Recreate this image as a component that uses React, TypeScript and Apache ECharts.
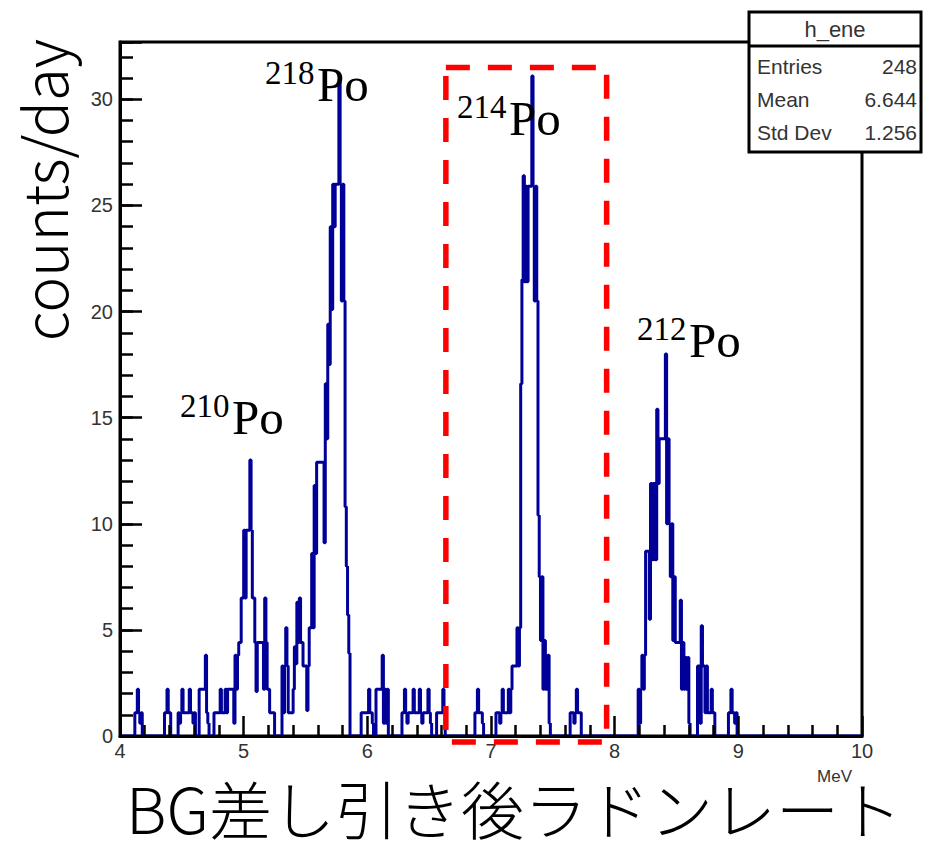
import React, { useEffect, useRef } from "react";
import * as echarts from "echarts";

// ---------- axis ranges and ticks ----------
const X_MIN = 4;
const X_MAX = 10;
const BIN_WIDTH = 0.01;
const Y_MIN = 0;
const Y_MAX = 32.7;
const X_MAJOR = 1;
const Y_MAJOR = 5;
const Y_MINOR = 1;

// ---------- histogram contents (counts/day), 0.01 MeV bins ----------
// each segment: first bin's lower edge, then consecutive bin values
const bg412Start = 4.12;
const bg412 = [1.1, 1.1, 2.2, 1.1, 0.6, 1.1];
const bg436Start = 4.36;
const bg436 = [1.1, 1.1, 2.2, 1.1, 1.1];
const bg447Start = 4.47;
const bg447 = [1.1, 0.6, 1.1, 2.2, 1.1, 1.1, 1.1, 1.1, 1.1, 2.2, 1.1, 1.1, 0.6, 1.1];
const bg464Start = 4.64;
const bg464 = [2.2, 2.2, 2.2, 2.2, 2.2, 3.8, 1.1, 0.6];
const po210Start = 4.76;
const po210 = [
  1.1, 1.1, 1.1, 1.1, 1.1, 2.2, 1.1, 1.1, 1.1, 2.2,
  1.1, 2.2, 2.2, 2.2, 2.2, 2.2, 0.6, 3.8, 2.2, 3.8,
  4.4, 4.4, 6.5, 6.5, 9.7, 6.5, 9.7, 9.7, 9.7, 13.0,
  9.7, 6.5, 6.5, 4.4, 2.1, 4.4, 4.4, 4.4, 4.4, 4.4,
  2.2, 6.5, 4.4, 2.2, 2.2, 1.1, 1.1, 1.1, 1.1,
];
const po218Start = 5.31;
const po218 = [
  3.3, 1.1, 3.3, 5.1, 3.3, 1.1, 1.1, 1.1, 1.1, 2.2,
  4.2, 3.4, 6.3, 4.4, 6.5, 4.4, 4.4, 3.3, 3.3, 3.3,
  1.2, 3.3, 5.1, 5.1, 8.6, 5.1, 11.8, 8.6, 12.9, 12.9,
  12.9, 12.9, 12.9, 12.9, 9.1, 16.6, 14.0, 19.4, 17.5, 24.0,
  20.1, 26.0, 24.0, 26.0, 26.0, 26.0, 30.8, 26.0, 20.5, 26.0,
  20.5, 10.8, 8.0, 5.7, 3.9,
];
const bg595Start = 5.95;
const bg595 = [
  1.1, 1.1, 1.1, 1.1, 1.1, 1.1, 2.2, 1.1, 1.1, 0.6,
  0, 0, 2.2, 2.2, 2.2, 2.2, 2.2, 3.8, 0.6, 2.2, 0.6, 2.2,
];
const bg628Start = 6.28;
const bg628 = [
  1.1, 1.1, 2.2, 1.1, 0.6, 1.1, 1.1, 1.1, 1.1, 2.2,
  1.1, 1.1, 1.1, 1.1, 2.2, 1.1, 0.6, 1.1, 1.1, 1.1,
  1.1, 2.2, 1.1, 0.6, 0, 0, 0, 0, 1.1, 1.1,
  1.1, 1.1, 1.1, 2.2, 1.1,
];
const bg687Start = 6.87;
const bg687 = [1.1, 1.1, 2.2, 1.1, 1.1, 1.1, 0.6];
const po214Start = 7.04;
const po214 = [
  1.1, 1.1, 1.1, 0.6, 1.1, 2.2, 1.1, 1.1, 1.1, 1.1,
  2.2, 1.1, 2.2, 3.3, 3.3, 3.3, 3.3, 5.1, 3.3, 5.1,
  16.6, 21.5, 26.4, 21.4, 25.9, 21.4, 25.9, 25.9, 25.9, 31.1,
  25.9, 20.5, 25.9, 20.5, 10.4, 7.5, 4.5, 7.5, 2.2, 4.5,
  2.2, 2.2, 3.8, 0.6,
];
const bg764Start = 7.64;
const bg764 = [1.1, 1.1, 1.1, 0.6, 1.1, 2.2, 1.1, 1.1, 1.1];
const po212Start = 8.19;
const po212 = [
  2.2, 0.6, 2.2, 3.8, 2.2, 3.8, 8.7, 8.7, 8.7, 5.5,
  11.9, 8.3, 11.9, 11.9, 8.3, 15.4, 11.9, 14.0, 14.0, 14.0,
  14.0, 14.0, 18.0, 10.0, 14.0, 10.0, 7.5, 10.0, 4.5, 7.5,
  4.4, 4.4, 4.4, 4.4, 6.4, 2.2, 4.4, 2.2, 3.7, 2.2,
  3.7, 0.6,
];
const bg867Start = 8.67;
const bg867 = [3.3, 3.3, 0.6, 5.2, 3.3, 3.3, 1.1, 3.3, 1.1, 1.1, 1.1, 2.2, 1.1, 1.1];
const bg892Start = 8.92;
const bg892 = [1.1, 1.1, 2.2, 1.1, 1.1, 0.6, 1.1];

const segments: [number, number[]][] = [
  [bg412Start, bg412],
  [bg436Start, bg436],
  [bg447Start, bg447],
  [bg464Start, bg464],
  [po210Start, po210],
  [po218Start, po218],
  [bg595Start, bg595],
  [bg628Start, bg628],
  [bg687Start, bg687],
  [po214Start, po214],
  [bg764Start, bg764],
  [po212Start, po212],
  [bg867Start, bg867],
  [bg892Start, bg892],
];

// ---------- texts ----------
const statsTitle = "h_ene";
const statsNames = ["Entries", "Mean", "Std Dev"];
const statsValues = ["248", "6.644", "1.256"];
const peakMasses = ["218", "214", "212", "210"];
const peakElement = "Po";
const yTitle = "counts/day";
const xTitle = "BG差し引き後ラドンレート";
const xUnit = "MeV";
// selection window (MeV, counts/day)
const windowE = [6.635, 7.935];
const windowV = [-0.28, 31.5];

function buildHistogram(): [number, number][] {
  const nBins = Math.round((X_MAX - X_MIN) / BIN_WIDTH);
  const vals = new Array(nBins).fill(0);
  for (const [start, arr] of segments) {
    const i0 = Math.round((start - X_MIN) / BIN_WIDTH);
    arr.forEach((v, j) => {
      vals[i0 + j] = v;
    });
  }
  const pts: [number, number][] = vals.map((v, i) => [
    +(X_MIN + i * BIN_WIDTH).toFixed(2),
    v,
  ]);
  pts.push([X_MAX, 0]);
  return pts;
}

export default function App() {
  const ref = useRef<HTMLDivElement>(null);
  useEffect(() => {
    if (!ref.current) return;
    const chart = echarts.init(ref.current, null, { renderer: "svg" });
    const tickFont = "Liberation Sans, Arial, sans-serif";
    const axisBase = {
      type: "value" as const,
      z: 10,
      splitLine: { show: false },
    };
    chart.setOption({
      animation: false,
      backgroundColor: "#ffffff",
      grid: {
        left: 120,
        top: 42,
        width: 742,
        height: 694,
        show: true,
        borderColor: "#000",
        borderWidth: 3,
        backgroundColor: "transparent",
      },
      xAxis: {
        ...axisBase,
        min: X_MIN,
        max: X_MAX,
        interval: X_MAJOR,
        axisLine: { show: true, onZero: false, lineStyle: { color: "#000", width: 3 } },
        axisTick: { show: true, inside: true, length: 20, lineStyle: { color: "#000", width: 2.5 } },
        minorTick: { show: true, splitNumber: 5, length: 11, lineStyle: { color: "#000", width: 2.5 } },
        minorSplitLine: { show: false },
        axisLabel: {
          color: "#333",
          fontSize: 20,
          fontFamily: tickFont,
          margin: 5,
        },
      },
      yAxis: [
        {
          ...axisBase,
          min: Y_MIN,
          max: Y_MAX,
          interval: Y_MAJOR,
          axisLine: { show: true, onZero: false, lineStyle: { color: "#000", width: 3 } },
          axisTick: { show: true, inside: true, length: 22, lineStyle: { color: "#000", width: 2.5 } },
          axisLabel: {
            color: "#333",
            fontSize: 20,
            fontFamily: tickFont,
            margin: 7,
            formatter: (v: number) => (Math.abs(v % Y_MAJOR) < 1e-9 ? String(v) : ""),
          },
        },
        {
          ...axisBase,
          min: Y_MIN,
          max: Y_MAX,
          interval: Y_MINOR,
          position: "left",
          axisLine: { show: false },
          axisTick: { show: true, inside: true, length: 13, lineStyle: { color: "#000", width: 2.5 } },
          axisLabel: { show: false },
        },
      ],
      series: [
        {
          type: "line",
          step: "end",
          data: buildHistogram(),
          showSymbol: false,
          symbol: "none",
          lineStyle: { color: "#000099", width: 3 },
          z: 2,
          silent: true,
        },
      ],
    });

    const p0 = chart.convertToPixel({ gridIndex: 0 }, [windowE[0], windowV[1]]) as number[];
    const p1 = chart.convertToPixel({ gridIndex: 0 }, [windowE[1], windowV[0]]) as number[];

    const serif = "Liberation Serif, Times New Roman, serif";
    const peakAnchors = [
      { sx: 265, sy: 73 },
      { sx: 457, sy: 107 },
      { sx: 637, sy: 329 },
      { sx: 180, sy: 406 },
    ];
    const peakGraphics: any[] = [];
    peakMasses.forEach((m, i) => {
      const a = peakAnchors[i];
      peakGraphics.push({
        type: "text",
        x: a.sx,
        y: a.sy,
        z: 50,
        style: { text: m, fontSize: 33, fontFamily: serif, fill: "#000", align: "left", verticalAlign: "middle" },
      });
      peakGraphics.push({
        type: "text",
        x: a.sx + 52,
        y: a.sy + 11,
        z: 50,
        style: { text: peakElement, fontSize: 49, fontFamily: serif, fill: "#000", align: "left", verticalAlign: "middle" },
      });
    });

    const statFont = "Liberation Sans, Arial, sans-serif";
    const statsGraphics: any[] = [
      {
        type: "rect",
        z: 100,
        shape: { x: 749, y: 12, width: 172, height: 140 },
        style: { fill: "#fff", stroke: "#000", lineWidth: 3 },
      },
      {
        type: "line",
        z: 101,
        shape: { x1: 749, y1: 46, x2: 921, y2: 46 },
        style: { stroke: "#000", lineWidth: 3 },
      },
      {
        type: "text",
        z: 102,
        x: 835,
        y: 29,
        style: { text: statsTitle, fontSize: 22, fontFamily: statFont, fill: "#333", align: "center", verticalAlign: "middle" },
      },
    ];
    statsNames.forEach((n, i) => {
      const y = 66 + i * 33;
      statsGraphics.push({
        type: "text",
        z: 102,
        x: 757,
        y,
        style: { text: n, fontSize: 21, fontFamily: statFont, fill: "#333", align: "left", verticalAlign: "middle" },
      });
      statsGraphics.push({
        type: "text",
        z: 102,
        x: 917,
        y,
        style: { text: statsValues[i], fontSize: 21, fontFamily: statFont, fill: "#333", align: "right", verticalAlign: "middle" },
      });
    });

    chart.setOption({
      graphic: [
        {
          type: "rect",
          z: 40,
          shape: { x: p0[0], y: p0[1], width: p1[0] - p0[0], height: p1[1] - p0[1] },
          style: { fill: "none", stroke: "#ff0000", lineWidth: 5.5, lineDash: [24, 18] },
        },
        ...peakGraphics,
        ...statsGraphics,
        {
          type: "text",
          z: 50,
          x: 41,
          y: 190,
          rotation: Math.PI / 2,
          style: {
            text: yTitle,
            fontSize: 60,
            fontFamily: "Noto Sans CJK JP, Noto Sans, sans-serif",
            fontWeight: 300,
            fill: "#000",
            align: "center",
            verticalAlign: "middle",
          },
        },
        {
          type: "text",
          z: 50,
          x: 514,
          y: 806,
          style: {
            text: xTitle,
            fontSize: 63,
            fontFamily: "Noto Sans CJK JP, sans-serif",
            fontWeight: 300,
            fill: "#000",
            align: "center",
            verticalAlign: "middle",
          },
        },
        {
          type: "text",
          z: 60,
          x: 852,
          y: 776,
          style: { text: xUnit, fontSize: 17, fontFamily: statFont, fill: "#333", align: "right", verticalAlign: "middle" },
        },
      ],
    });

    return () => chart.dispose();
  }, []);
  return (
    <div
      ref={ref}
      style={{ position: "fixed", left: 0, top: 0, width: 938, height: 842, background: "#fff" }}
    />
  );
}
